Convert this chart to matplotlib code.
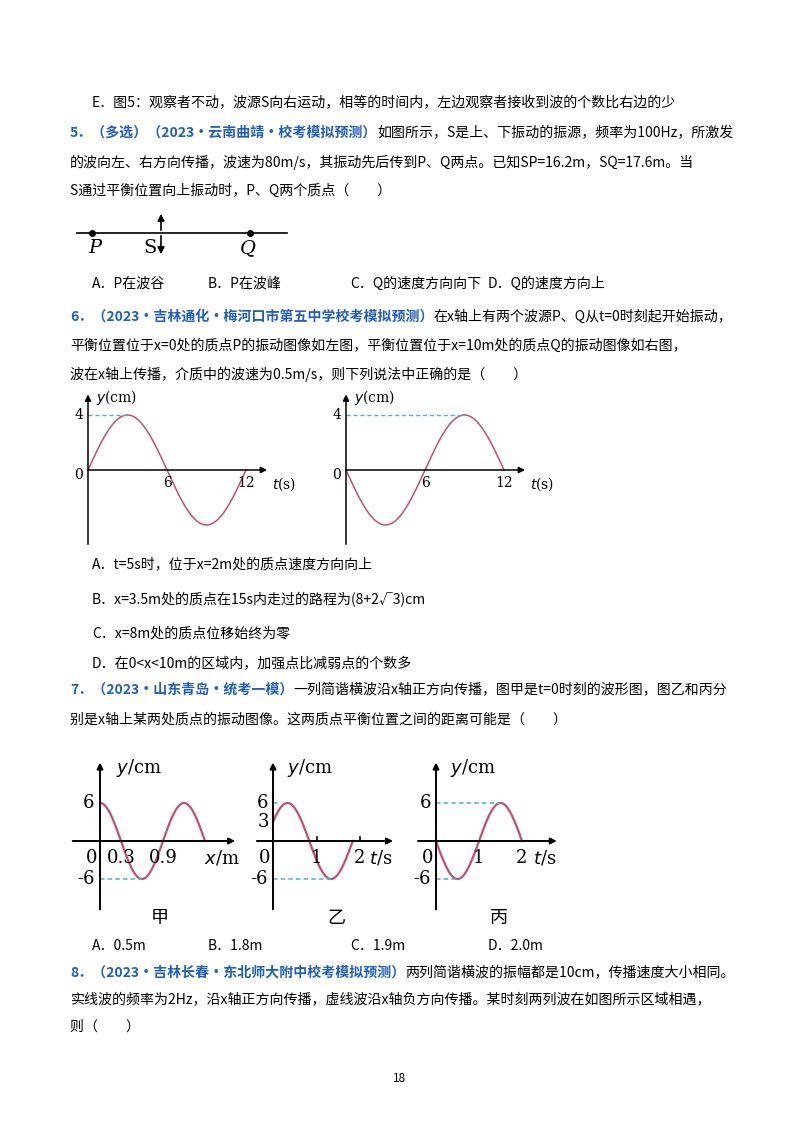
import numpy as np
import matplotlib
matplotlib.use("Agg")
import matplotlib.pyplot as plt

plt.rcParams['font.family'] = ['Noto Sans CJK SC', 'DejaVu Sans']
W, H = 800, 1132
BLUE = '#1f5fbf'
WAVE = '#c0506e'
DASH = '#45b4dc'
FS = 10.05

# ---- data ----
q6_ticks = [6, 12]
q6_amp = 4
q6_period = 12
q6_left_sign = 1      # P starts upward
q6_right_sign = -1    # Q starts downward
q7_amp = 6
q7_jia_wavelength = 1.2
q7_jia_end = 1.5
q7_jia_ticks = [0.3, 0.9]
q7_yi_period = 2
q7_yi_start = 3
q7_yi_end = 11 / 6
q7_bing_period = 2
q7_t_ticks = [1, 2]
q5_options = ['A．P在波谷', 'B．P在波峰', 'C．Q的速度方向向下', 'D．Q的速度方向上']
q7_options = ['A．0.5m', 'B．1.8m', 'C．1.9m', 'D．2.0m']
opt_x = [92, 208, 350, 488]

fig = plt.figure(figsize=(8, 11.32), dpi=100)
page = fig.add_axes([0, 0, 1, 1])
page.set_xlim(0, W); page.set_ylim(H, 0); page.axis('off')

def txt(x, y, s, color='black', weight='normal', size=FS, **kw):
    return page.text(x, y, s, color=color, fontweight=weight, fontsize=size, va='center', **kw)

def qline(x, y, prefix, rest):
    t1 = txt(x, y, prefix, color=BLUE, weight='bold')
    page.annotate(rest, xy=(1, 0.5), xycoords=t1, va='center', fontsize=FS)

txt(92, 103, 'E．图5：观察者不动，波源S向右运动，相等的时间内，左边观察者接收到波的个数比右边的少')
qline(70, 133, '5．（多选）（2023·云南曲靖·校考模拟预测）', '如图所示，S是上、下振动的振源，频率为100Hz，所激发')
txt(70, 162, '的波向左、右方向传播，波速为80m/s，其振动先后传到P、Q两点。已知SP=16.2m，SQ=17.6m。当')
txt(70, 191, 'S通过平衡位置向上振动时，P、Q两个质点（　　）')
for xx, s in zip(opt_x, q5_options):
    txt(xx, 284, s)
qline(70, 317, '6．（2023·吉林通化·梅河口市第五中学校考模拟预测）', '在x轴上有两个波源P、Q从t=0时刻起开始振动，')
txt(70, 346, '平衡位置位于x=0处的质点P的振动图像如左图，平衡位置位于x=10m处的质点Q的振动图像如右图，')
txt(70, 374, '波在x轴上传播，介质中的波速为0.5m/s，则下列说法中正确的是（　　）')
txt(92, 565, 'A．t=5s时，位于x=2m处的质点速度方向向上')
txt(92, 600, 'B．x=3.5m处的质点在15s内走过的路程为(8+2√3)cm')
txt(92, 633, 'C．x=8m处的质点位移始终为零')
txt(92, 664, 'D．在0<x<10m的区域内，加强点比减弱点的个数多')
qline(70, 690, '7．（2023·山东青岛·统考一模）', '一列简谐横波沿x轴正方向传播，图甲是t=0时刻的波形图，图乙和丙分')
txt(70, 719, '别是x轴上某两处质点的振动图像。这两质点平衡位置之间的距离可能是（　　）')
for xx, s in zip(opt_x, q7_options):
    txt(xx, 946, s)
qline(70, 973, '8．（2023·吉林长春·东北师大附中校考模拟预测）', '两列简谐横波的振幅都是10cm，传播速度大小相同。')
txt(70, 1000, '实线波的频率为2Hz，沿x轴正方向传播，虚线波沿x轴负方向传播。某时刻两列波在如图所示区域相遇，')
txt(70, 1027, '则（　　）')
txt(400, 1078, '18', ha='center', size=8.5)

# ---- Q5 figure ----
page.plot([77, 287], [233, 233], color='black', lw=1.2)
page.plot([92, 250], [233, 233], 'o', color='black', ms=4)
page.annotate('', xy=(161, 211), xytext=(161, 233), arrowprops=dict(arrowstyle='-|>', color='black', lw=1.2))
page.annotate('', xy=(161, 257), xytext=(161, 233), arrowprops=dict(arrowstyle='-|>', color='black', lw=1.2))
page.text(95, 248, 'P', fontsize=14, style='italic', family='DejaVu Serif', ha='center', va='center')
page.text(150, 248, 'S', fontsize=14, family='DejaVu Serif', ha='center', va='center')
page.text(248, 248, 'Q', fontsize=14, style='italic', family='DejaVu Serif', ha='center', va='center')

def mkax(x0, x1, y0, y1, ox, oy, sx, sy):
    ax = fig.add_axes([x0 / W, 1 - y1 / H, (x1 - x0) / W, (y1 - y0) / H])
    ax.set_xlim((x0 - ox) / sx, (x1 - ox) / sx)
    ax.set_ylim((oy - y1) / sy, (oy - y0) / sy)
    ax.axis('off')
    return ax

def axes_arrows(ax, xa, xb, ya, yb, lw=1.1):
    ap = dict(arrowstyle='-|>', color='black', lw=lw, mutation_scale=9, shrinkA=0, shrinkB=0)
    ax.annotate('', xy=(xb, 0), xytext=(xa, 0), arrowprops=ap)
    ax.annotate('', xy=(0, yb), xytext=(0, ya), arrowprops=ap)

# ---- Q6 charts ----
for ox, sign in [(88, q6_left_sign), (346, q6_right_sign)]:
    sx = 158 / 12; sy = 55 / 4
    ax = mkax(ox - 20, ox + 200, 388, 545, ox, 470, sx, sy)
    axes_arrows(ax, 0, 13.6, -5.4, 5.5)
    t = np.linspace(0, q6_period, 300)
    y = sign * q6_amp * np.sin(2 * np.pi * t / q6_period)
    ax.plot(t, y, color=WAVE, lw=1.1)
    tp = q6_period / 4 if sign > 0 else 3 * q6_period / 4
    ax.plot([0, tp], [q6_amp, q6_amp], ls=(0, (3, 2)), color=DASH, lw=1)
    fsn = 10
    ax.text(-0.35, q6_amp, '4', ha='right', va='center', fontsize=fsn, family='DejaVu Serif')
    ax.text(-0.4, -0.35, '0', ha='right', va='center', fontsize=fsn, family='DejaVu Serif')
    for tk in q6_ticks:
        ax.text(tk, -0.45, str(tk), ha='center', va='top', fontsize=fsn, family='DejaVu Serif')
    ax.text(14.0, -1.0, r'$t$(s)', ha='left', va='center', fontsize=fsn, family='DejaVu Serif')
    ax.text(0.6, 5.3, r'$y$(cm)', ha='left', va='center', fontsize=fsn, family='DejaVu Serif')

# ---- Q7 charts ----
FS7 = 13
sy7 = 38 / 6
def q7_common(ax, xa, xb, xlabel, ticks, lab):
    axes_arrows(ax, xa, xb, -10.8, 12.4, lw=1.4)
    ax.text(-0.02 * xb, -1.2, '0', ha='right', va='top', fontsize=FS7, family='DejaVu Serif')
    ax.text(-0.04 * xb, 6, '6', ha='right', va='center', fontsize=FS7, family='DejaVu Serif')
    ax.text(-0.04 * xb, -6, '-6', ha='right', va='center', fontsize=FS7, family='DejaVu Serif')
    for tk in ticks:
        ax.text(tk, -1.2, f'{tk:g}', ha='center', va='top', fontsize=FS7, family='DejaVu Serif')
    ax.text(xb * 0.9, -1.2, xlabel, ha='center', va='top', fontsize=FS7, family='DejaVu Serif')
    ax.text(xb * 0.12, 11.5, r'$y$/cm', ha='left', va='center', fontsize=FS7, family='DejaVu Serif')
    ax.text(*lab, ha='center', va='center', fontsize=FS7)

# 甲
sx = 70
ax = mkax(60, 250, 755, 930, 100, 841, sx, sy7)
x = np.linspace(0, q7_jia_end, 300)
ax.plot(x, q7_amp * np.cos(2 * np.pi * x / q7_jia_wavelength), color=WAVE, lw=1.6)
ax.plot([0, q7_jia_wavelength / 2], [-6, -6], ls=(0, (3, 2)), color=DASH, lw=1.1)
q7_common(ax, -0.39, 1.93, r'$x$/m', q7_jia_ticks, (0.86, -12.2, '甲'))
# 乙
sx = 43.5
ax = mkax(250, 410, 755, 930, 273, 841, sx, sy7)
t = np.linspace(0, q7_yi_end, 300)
ax.plot(t, q7_amp * np.sin(2 * np.pi * t / q7_yi_period + np.arcsin(q7_yi_start / q7_amp)), color=WAVE, lw=1.6)
ax.plot([0, 1 / 6], [6, 6], ls=(0, (3, 2)), color=DASH, lw=1.1)
ax.plot([0, 4 / 3], [-6, -6], ls=(0, (3, 2)), color=DASH, lw=1.1)
ax.text(-0.08, 3, '3', ha='right', va='center', fontsize=FS7, family='DejaVu Serif')
ax.plot([1, 1], [0, 0.6], color='black', lw=1.2); ax.plot([2, 2], [0, 0.6], color='black', lw=1.2)
q7_common(ax, -0.37, 2.76, r'$t$/s', q7_t_ticks, (1.45, -12.2, '乙'))
# 丙
sx = 43
ax = mkax(410, 570, 755, 930, 436, 841, sx, sy7)
t = np.linspace(0, q7_bing_period, 300)
ax.plot(t, -q7_amp * np.sin(2 * np.pi * t / q7_bing_period), color=WAVE, lw=1.6)
ax.plot([0, 0.5], [-6, -6], ls=(0, (3, 2)), color=DASH, lw=1.1)
ax.plot([0, 1.5], [6, 6], ls=(0, (3, 2)), color=DASH, lw=1.1)
q7_common(ax, -0.42, 2.81, r'$t$/s', q7_t_ticks, (1.45, -12.2, '丙'))

fig.savefig('out.png', dpi=100)
